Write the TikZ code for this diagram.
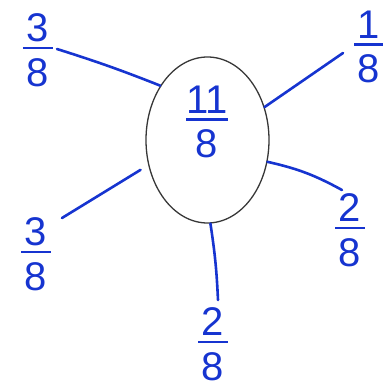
\documentclass[tikz,border=0pt]{standalone}
\usepackage{fontspec}
\setmainfont{Liberation Sans}
\usepackage{xcolor}
\usepackage{tikz}
\usetikzlibrary{shapes.geometric, positioning, calc}

\definecolor{inkblue}{RGB}{22,52,208}
\definecolor{pencil}{RGB}{55,55,55}
\newcommand\hfrac[3][0.75em]{{\renewcommand\arraystretch{0}\begin{tabular}{@{}c@{}}#2\\[5pt]\rule{#1}{2.6pt}\\[9pt]#3\end{tabular}}}

\begin{document}
\begin{tikzpicture}[x=1pt, y=1pt,
    frac/.style={text=inkblue, inner sep=0pt, font=\fontsize{40}{40}\selectfont},
    spoke/.style={draw=inkblue, line width=2.6pt, line cap=round}]
  \useasboundingbox (0,0) rectangle (383,389);
  \node[draw=pencil, line width=1.3pt, ellipse, minimum width=123pt, minimum height=166pt] (c) at (207.5,249) {};
  \node[frac] (mid) at (207,267) {\hfrac[1.05em]{11}{8}};
  \node[frac] (tl) at (38,339) {\hfrac{3}{8}};
  \node[frac] (tr) at (369,342) {\hfrac{1}{8}};
  \node[frac] (r) at (350,159) {\hfrac{2}{8}};
  \node[frac] (b) at (213,45) {\hfrac{2}{8}};
  \node[frac] (bl) at (36,135) {\hfrac{3}{8}};
  \coordinate (e1) at (57,340); \coordinate (e2) at (343,336);
  \coordinate (e3) at (342,199); \coordinate (e4) at (218,89);
  \coordinate (e5) at (62,171);
  \draw[spoke] (c.131) to[bend right=2] (e1);
  \draw[spoke] (c.30) -- (e2);
  \draw[spoke] (c.-20) to[bend left=8] (e3);
  \draw[spoke] (c.-88) to[bend left=3] (e4);
  \draw[spoke, shorten <=9pt] (c.203) -- (e5);
\end{tikzpicture}
\end{document}
